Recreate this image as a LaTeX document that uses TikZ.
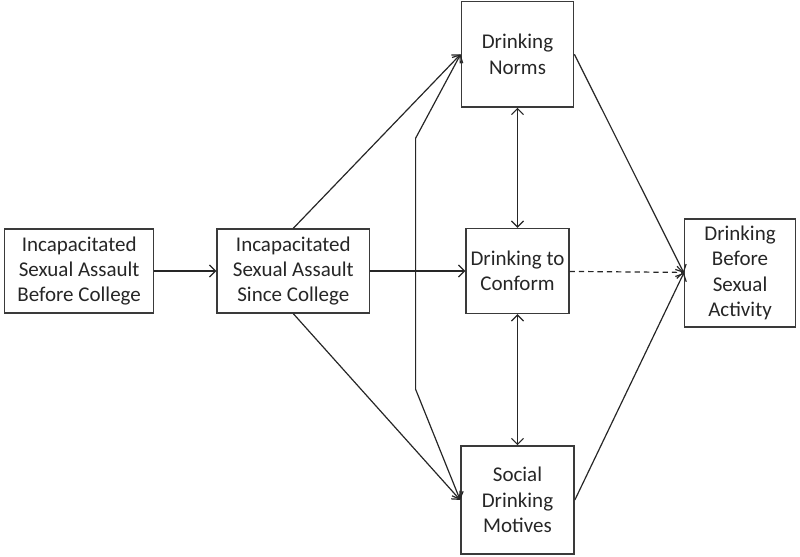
\documentclass[tikz,border=0pt]{standalone}
\usepackage{fontspec}
\setmainfont{Carlito}
\usepackage{xcolor}
\usetikzlibrary{arrows.meta,positioning}
\definecolor{boxgray}{HTML}{3A3A3A}
\definecolor{textgray}{HTML}{262626}

\begin{document}
\begin{tikzpicture}[
 font=\fontsize{15.8}{19}\selectfont,
 >={Straight Barb[length=1.6mm,width=3.2mm]},
 var/.style={draw=boxgray,line width=1.1pt,align=center,inner sep=2pt,text=textgray},
 flow/.style={->,draw=black!85,line width=0.9pt}]
\useasboundingbox (-0.042in,2.823in) rectangle (8.292in,-2.979in);
\node[var,anchor=west,minimum width=1.55in,minimum height=0.875in] (a) at (0,0) {Incapacitated\\Sexual Assault\\Before College};
\node[var,minimum width=1.59in,minimum height=0.875in,right=0.646in of a] (b) {Incapacitated\\Sexual Assault\\Since College};
\node[var,minimum width=1.07in,minimum height=0.885in,right=0.99in of b] (d) {Drinking to\\Conform};
\node[var,minimum width=1.17in,minimum height=1.10in,above=1.25in of d] (c) {Drinking\\Norms};
\node[var,minimum width=1.18in,minimum height=1.125in,below=1.365in of d] (e) {Social\\Drinking\\Motives};
\node[var,minimum width=1.156in,minimum height=1.125in,right=1.19in of d,yshift=-0.02in] (f) {Drinking\\Before\\Sexual\\Activity};
\draw[flow] (a)--(b); \draw[flow] (b)--(d);
\draw[flow] (b.north)--(c.west); \draw[flow] (b.south)--(e.west);
\draw[flow,<->] (c)--(d); \draw[flow,<->] (d)--(e);
\draw[flow,<->] (c.west)--++(-0.469in,-0.875in)--++(0,-2.615in)--(e.west);
\draw[flow] (c.east)--(f.west); \draw[flow] (e.east)--(f.west);
\draw[flow,dash pattern=on 4pt off 3pt] (d)--(f);
\end{tikzpicture}
\end{document}
